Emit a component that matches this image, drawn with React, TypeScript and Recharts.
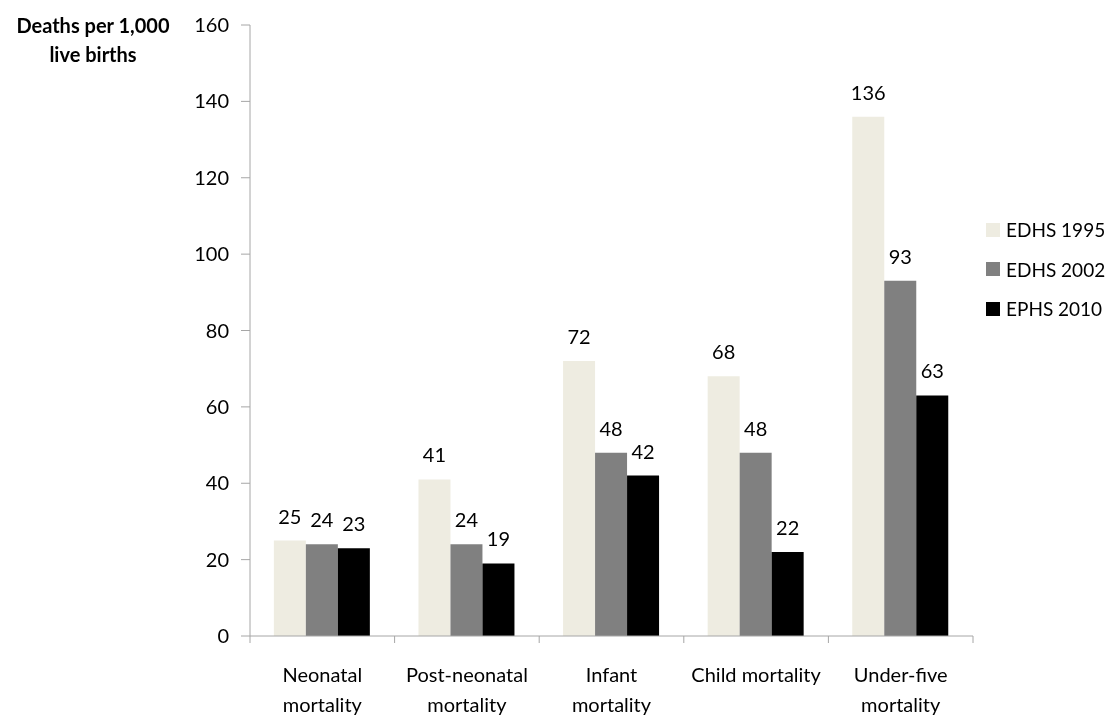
import React from "react";
import { BarChart, Bar, XAxis, YAxis, Legend, LabelList } from "recharts";

const categories = [
  "Neonatal\nmortality",
  "Post-neonatal\nmortality",
  "Infant\nmortality",
  "Child mortality",
  "Under-five\nmortality",
];
const edhs1995 = [25, 41, 72, 68, 136];
const edhs2002 = [24, 24, 48, 48, 93];
const ephs2010 = [23, 19, 42, 22, 63];
const yTicks = [0, 20, 40, 60, 80, 100, 120, 140, 160];

const seriesInfo = [
  { key: "edhs1995", name: "EDHS 1995", color: "#EEECE1" },
  { key: "edhs2002", name: "EDHS 2002", color: "#808080" },
  { key: "ephs2010", name: "EPHS 2010", color: "#000000" },
];

const data = categories.map((c, i) => ({
  category: c,
  edhs1995: edhs1995[i],
  edhs2002: edhs2002[i],
  ephs2010: ephs2010[i],
}));

const FONT = "Lato, 'Liberation Sans', sans-serif";
const AXIS_COLOR = "#A6A6A6";

const CatTick = (props: any) => {
  const { x, y, payload, width, visibleTicksCount, index } = props;
  const lines = String(payload.value).split("\n");
  const band = width / (visibleTicksCount || 5);
  const left = x - band / 2;
  const right = x + band / 2;
  const isLast = index === (visibleTicksCount || 5) - 1;
  return (
    <g>
      <line x1={left} y1={y} x2={left} y2={y + 7} stroke={AXIS_COLOR} />
      {isLast && <line x1={right} y1={y} x2={right} y2={y + 7} stroke={AXIS_COLOR} />}
      <text x={x} y={y} textAnchor="middle" fontSize={20} fill="#000" fontFamily={FONT}>
        {lines.map((l, i) => (
          <tspan key={i} x={x} dy={i === 0 ? 46 : 30}>
            {l}
          </tspan>
        ))}
      </text>
    </g>
  );
};

const YTitle = (props: any) => {
  const vb = props.viewBox || {};
  const cx = (vb.x ?? 182) - 97;
  const top = vb.y ?? 17;
  return (
    <text textAnchor="middle" fontSize={20} fontWeight="bold" fill="#000" fontFamily={FONT}>
      <tspan x={cx} y={top + 8}>Deaths per 1,000</tspan>
      <tspan x={cx} y={top + 37}>live births</tspan>
    </text>
  );
};

const LegendContent = () => (
  <div style={{ fontFamily: FONT, fontSize: 19, color: "#000" }}>
    {seriesInfo.map((s) => (
      <div key={s.key} style={{ display: "flex", alignItems: "center", height: 39.5 }}>
        <span style={{ display: "inline-block", width: 14, height: 14, background: s.color, marginRight: 6 }} />
        <span>{s.name}</span>
      </div>
    ))}
  </div>
);

export default function App() {
  return (
    <div style={{ position: "fixed", top: 8, left: 8, width: 1092, height: 707 }}>
      <BarChart
        width={1092}
        height={707}
        data={data}
        margin={{ top: 17, right: 127, bottom: 18, left: 182 }}
        barGap={0}
        barCategoryGap="16.5%"
      >
        <XAxis
          dataKey="category"
          type="category"
          axisLine={{ stroke: AXIS_COLOR }}
          tickLine={false}
          tickSize={0}
          tickMargin={0}
          height={61}
          interval={0}
          tick={<CatTick />}
        />
        <YAxis
          width={60}
          domain={[0, 160]}
          ticks={yTicks}
          interval={0}
          tickSize={9}
          tickMargin={12}
          axisLine={{ stroke: AXIS_COLOR }}
          tickLine={{ stroke: AXIS_COLOR }}
          tick={{ fontSize: 20, fill: "#000", fontFamily: FONT }}
          label={<YTitle />}
        />
        <Legend
          layout="vertical"
          align="center"
          verticalAlign="middle"
          content={<LegendContent />}
          wrapperStyle={{ position: "absolute", left: 978, top: 202, width: 120 }}
        />
        {seriesInfo.map((s) => (
          <Bar
            key={s.key}
            dataKey={s.key}
            name={s.name}
            fill={s.color}
            isAnimationActive={false}
          >
            <LabelList
              dataKey={s.key}
              position="top"
              offset={17}
              fontSize={20}
              fill="#000"
              fontFamily={FONT}
            />
          </Bar>
        ))}
      </BarChart>
    </div>
  );
}
